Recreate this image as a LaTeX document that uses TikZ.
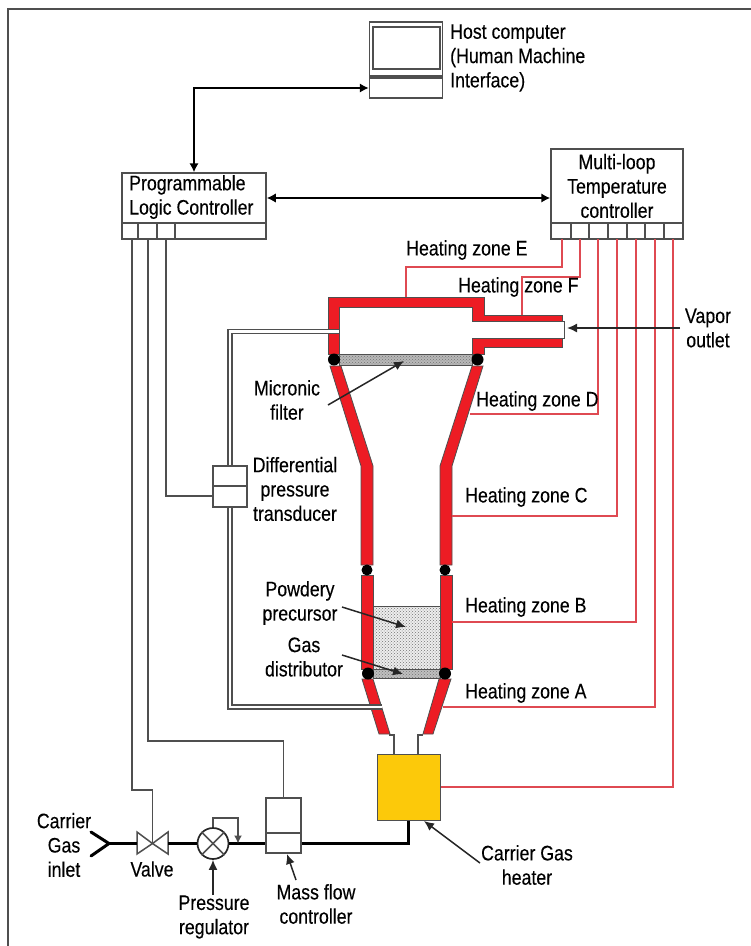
\documentclass[tikz,border=0pt]{standalone}
\usepackage{fontspec}
\setmainfont[FakeStretch=0.845,FakeBold=0.25]{Liberation Sans}
\usetikzlibrary{arrows.meta,patterns,calc}
\definecolor{wallred}{HTML}{ED1C24}
\definecolor{wirered}{HTML}{DF4A52}
\definecolor{heateryellow}{HTML}{FCC90A}
\definecolor{edgegray}{HTML}{4F4F4F}
\tikzset{
  txt/.style={font=\fontsize{21}{24.3}\selectfont,inner sep=0pt,align=center,text=black},
  box/.style={draw=edgegray,line width=1.5pt,fill=white,inner sep=0pt,minimum width=#1},
  box/.default=34pt,
  wall/.style={fill=wallred,draw=edgegray,line width=0.8pt},
  seal/.style={fill=black,circle,inner sep=0pt,minimum size=#1},
  wire/.style={draw=edgegray,line width=1.5pt},
  zone/.style={draw=wirered,line width=1.6pt},
  pipe/.style={draw=black,line width=3pt},
  ctl/.style={draw=black,line width=2.8pt,{Latex[length=9pt,width=9.5pt]}-{Latex[length=9pt,width=9.5pt]}},
  pointer/.style={draw=black!85,line width=1.5pt,-{Latex[length=10pt,width=9pt]}},
  tube/.style={draw=edgegray,line width=5.8pt,postaction={draw=white,line width=2.8pt}},
  porous/.style={draw=edgegray,line width=0.8pt,preaction={fill=#1},pattern=crosshatch dots,pattern color=black!55},
}
\begin{document}
\begin{tikzpicture}[x=1pt,y=-1pt]
\useasboundingbox (0,0) rectangle (751,946);
% page frame
\coordinate (fa) at (751,9);
\coordinate (fb) at (7.5,9);
\coordinate (fc) at (7.5,946);
\draw[edgegray,line width=2pt] (fa) -- (fb) -- (fc);

% host computer
\node[box=73pt,minimum height=54pt] (hosttop) at (406,49) {};
\node[draw=edgegray,line width=1.7pt,inner sep=0pt,minimum width=67pt,minimum height=42pt] (screen) at (406.5,48) {};
\node[box=73pt,minimum height=20pt] (hostbase) at (406,88) {};

% PLC
\node[box=144pt,minimum height=50pt] (plc) at (194,198) {};
\node[box=144pt,minimum height=16pt] (plcports) at (194,231) {};
\foreach \x in {138,157,175} \draw[wire] (\x,223) -- (\x,239);

% temperature controller
\node[box=132pt,minimum height=74pt] (mltc) at (617,186) {};
\node[box=132pt,minimum height=16pt] (mltcports) at (617,231) {};
\foreach \x in {571,589,608,627,645,664} \draw[wire] (\x,223) -- (\x,239);

% control links
\draw[ctl] (plc.north) |- (hostbase.west);
\draw[ctl] (plc.east) -- (plc.east -| mltc.west);

% reactor walls
\node[porous=black!28,minimum width=133pt,minimum height=11pt,inner sep=0pt] (filter) at (405.5,359.5) {};
\node[porous=black!7,minimum width=67pt,minimum height=63pt,inner sep=0pt] (powder) at (406.5,637.5) {};
\node[porous=black!25,minimum width=67pt,minimum height=9pt,inner sep=0pt] (distributor) at (406.5,673.5) {};
\path[wall] (328,354) -- (328,297) -- (484,297) -- (484,315) -- (562,315) -- (562,321) -- (472,321) -- (472,307) -- (339,307) -- (339,354) -- cycle;
\path[wall] (472,354) -- (472,338) -- (562,338) -- (562,347) -- (484,347) -- (484,354) -- cycle;
\draw[edgegray,line width=0.9pt] (562,321) -- (564.5,321) -- (564.5,338) -- (562,338);
\path[wall] (330,366) -- (341,366) -- (373,466) -- (373,565) -- (361,565) -- (361,466) -- cycle;
\path[wall] (472,366) -- (483,366) -- (452,466) -- (452,565) -- (440,565) -- (440,466) -- cycle;
\path[wall] (361,575) rectangle (373,669);
\path[wall] (440,575) rectangle (452,669);
\path[wall] (362,679) -- (373,679) -- (390,734) -- (379,734) -- cycle;
\path[wall] (439,679) -- (451,679) -- (433,734) -- (423,734) -- cycle;
\node[seal=12pt] (s1) at (334,359.5) {};
\node[seal=12pt] (s2) at (477.5,359.5) {};
\node[seal=11pt] (s3) at (367,570) {};
\node[seal=11pt] (s4) at (445,570) {};
\node[seal=12pt] (s5) at (368,673.5) {};
\node[seal=12pt] (s6) at (445,673.5) {};

% heater and its neck
\node[draw=edgegray,line width=1pt,fill=heateryellow,inner sep=0pt,minimum width=63pt,minimum height=66pt] (heater) at (408.5,787) {};
\coordinate (n1) at (389,735); \coordinate (n2) at (394,735); \coordinate (n3) at (394,754);
\coordinate (n4) at (423,735); \coordinate (n5) at (418,735); \coordinate (n6) at (418,754);
\draw[wire] (n1) -- (n2) -- (n3);
\draw[wire] (n4) -- (n5) -- (n6);

% transducer with its impulse tubes
\node[box=34pt,minimum height=41pt,fill=white] (dpt) at (230,486.5) {};
\draw[wire] (dpt.west |- 0,486) -- (dpt.east |- 0,486);
\coordinate (up) at (339,331.5);
\coordinate (low) at (382,707);
\draw[tube] (dpt.north) -- (dpt.north |- up) -- (up);
\draw[tube] (dpt.south) -- (dpt.south |- low) -- (low);

% mass flow controller
\node[box=35pt,minimum height=55pt] (mfc) at (283.5,825.5) {};
\draw[wire] (mfc.west |- 0,833) -- (mfc.east |- 0,833);

% valve and regulator
\coordinate (valve) at (152.5,843.5);
\draw[wire] (137,832) -- (137,854) -- (valve) -- cycle;
\draw[wire] (168,832) -- (168,854) -- (valve) -- cycle;
\node[draw=black!85,line width=1.7pt,circle,inner sep=0pt,minimum size=31pt,fill=white] (reg) at (213,843.5) {};
\draw[wire] (reg.north west) -- (reg.south east);
\draw[wire] (reg.north east) -- (reg.south west);

% gas line
\coordinate (in) at (109,843.5);
\coordinate (y1) at (91,832);
\coordinate (y2) at (91,856);
\draw[pipe,line cap=round,line join=round] (y1) -- (in) -- (y2);
\draw[pipe] (in) -- (137,843.5);
\draw[pipe] (168,843.5) -- (reg.west);
\draw[pipe] (reg.east) -- (mfc.west |- reg.east);
\draw[pipe] (heater.south) |- (mfc.east |- 0,843.5);
\coordinate (fbk) at (238,843.5);
\draw[wire,-{Latex[length=8pt,width=8pt]}] (reg.north) -- (213,818) -- (238,818) -- (fbk);

% PLC signal wires
\draw[wire] (132,239) -- (132,790) -- (152.5,790) -- (valve);
\draw[wire] (148,239) -- (148,741) -- (283.5,741) -- (mfc.north);
\draw[wire] (166,239) -- (166,496) -- (dpt.west |- 0,496);

% heating wires
\draw[zone] (562,239) -- (562,267) -- (406,267) -- (406,297);
\draw[zone] (580,239) -- (580,277) -- (522,277) -- (522,315);
\draw[zone] (598,239) -- (598,414) -- (470,414);
\draw[zone] (617,239) -- (617,516) -- (452,516);
\draw[zone] (636,239) -- (636,622) -- (452,622);
\draw[zone] (655,239) -- (655,707) -- (443,707);
\draw[zone] (673,239) -- (673,787) -- (heater.east);

% texts
\node[txt,align=left,anchor=west] (thost) at (450,58) {Host computer\\(Human Machine\\Interface)};
\node[txt,align=left,anchor=west] (tplc) at (129,197) {Programmable\\Logic Controller};
\node[txt] (tmltc) at (617,186) {Multi-loop\\Temperature\\controller};
\node[txt,anchor=west] (tE) at (406,250) {Heating zone E};
\node[txt,anchor=west] (tF) at (458,287) {Heating zone F};
\node[txt,anchor=west] (tD) at (476,401) {Heating zone D};
\node[txt,anchor=west] (tC) at (465,497) {Heating zone C};
\node[txt,anchor=west] (tB) at (465,607) {Heating zone B};
\node[txt,anchor=west] (tA) at (465,693) {Heating zone A};
\node[txt] (tvapor) at (708,328) {Vapor\\outlet};
\node[txt] (tmicro) at (287,400) {Micronic\\filter};
\node[txt] (tdpt) at (295,489) {Differential\\pressure\\transducer};
\node[txt] (tpowder) at (300,603) {Powdery\\precursor};
\node[txt] (tgas) at (304,657) {Gas\\distributor};
\node[txt] (tinlet) at (64,845) {Carrier\\Gas\\inlet};
\node[txt] (tvalve) at (152,869) {Valve};
\node[txt] (treg) at (214,917) {Pressure\\regulator};
\node[txt] (tmfc) at (316,904) {Mass flow\\controller};
\node[txt] (theat) at (527,865) {Carrier Gas\\heater};

% pointers
\coordinate (pv) at (680,328);
\draw[pointer] (pv) -- (567,328);
\coordinate (pm) at (328,405);
\draw[pointer] (pm) -- (404,361);
\coordinate (pp) at (342,607);
\draw[pointer] (pp) -- (406,627);
\coordinate (pg) at (342,655);
\draw[pointer] (pg) -- (403,674);
\coordinate (pr) at (213,895);
\draw[pointer] (pr) -- (reg.south);
\coordinate (pf) at (296,880);
\draw[pointer] (pf) -- (287,854);
\coordinate (ph) at (480,863);
\draw[pointer] (ph) -- (424,821);
\end{tikzpicture}
\end{document}
